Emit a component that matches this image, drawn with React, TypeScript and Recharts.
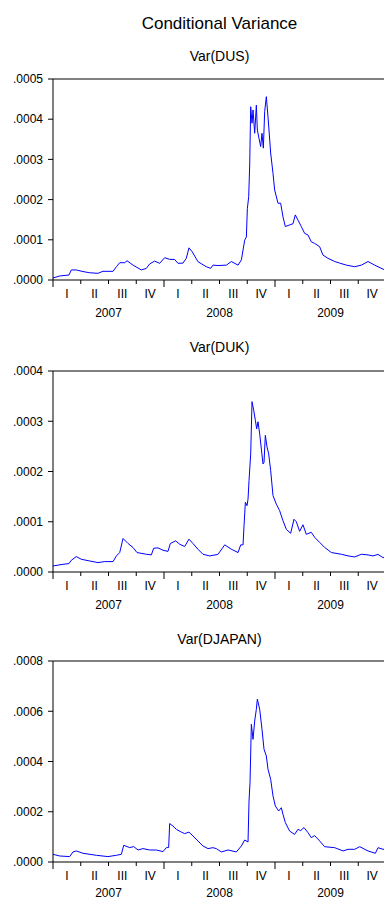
import React from 'react';
import { LineChart, Line, XAxis, YAxis, ReferenceLine } from 'recharts';

const FONT = '"Liberation Sans", Arial, Helvetica, sans-serif';

const mainTitle = 'Conditional Variance';

// quarter boundaries (tick marks) and quarter / year label positions (decimal years)
const quarterBounds = [
  2007, 2007.25, 2007.5, 2007.75, 2008, 2008.25, 2008.5, 2008.75, 2009, 2009.25, 2009.5, 2009.75, 2010,
];
const quarterCenters = [
  2007.125, 2007.375, 2007.625, 2007.875, 2008.125, 2008.375, 2008.625, 2008.875, 2009.125, 2009.375,
  2009.625, 2009.875,
];
const quarterLabels = ['I', 'II', 'III', 'IV'];
const yearCenters = [2007.5, 2008.5, 2009.5];
const yearLabels = ['2007', '2008', '2009'];

// [decimal year, conditional variance in units of 1e-6]
const dusVar: [number, number][] = [
  [2007.0, 5], [2007.06, 10], [2007.144, 12.4], [2007.165, 25], [2007.21, 25], [2007.27, 21],
  [2007.33, 18], [2007.405, 16.6], [2007.45, 21.6], [2007.541, 21.6], [2007.571, 33], [2007.601, 43],
  [2007.646, 43], [2007.667, 48], [2007.721, 37], [2007.796, 25], [2007.841, 29], [2007.871, 40],
  [2007.916, 47], [2007.961, 41.5], [2008.006, 55.5], [2008.051, 51.4], [2008.096, 51], [2008.126, 41.5],
  [2008.171, 42], [2008.201, 54], [2008.225, 80], [2008.255, 70], [2008.306, 45.6], [2008.381, 33],
  [2008.42, 29], [2008.441, 37], [2008.486, 36], [2008.562, 37], [2008.607, 46], [2008.667, 37],
  [2008.697, 50], [2008.727, 99], [2008.742, 107], [2008.751, 178], [2008.763, 207], [2008.772, 286],
  [2008.781, 431], [2008.793, 390], [2008.802, 423], [2008.817, 365], [2008.832, 435], [2008.841, 373],
  [2008.856, 352], [2008.871, 332], [2008.883, 365], [2008.895, 328], [2008.907, 419], [2008.922, 456],
  [2008.937, 406], [2008.961, 316], [2008.982, 265], [2008.997, 224], [2009.027, 191], [2009.051, 191],
  [2009.072, 157], [2009.093, 133], [2009.132, 137], [2009.162, 140], [2009.183, 162], [2009.207, 149],
  [2009.237, 133], [2009.267, 116], [2009.297, 112], [2009.327, 95], [2009.357, 91], [2009.402, 83],
  [2009.432, 62], [2009.477, 54], [2009.538, 46], [2009.583, 42], [2009.643, 37], [2009.718, 33],
  [2009.778, 37], [2009.838, 46], [2009.898, 37], [2009.973, 27], [2010.0, 25],
];

const dukVar: [number, number][] = [
  [2007.0, 12], [2007.09, 15.3], [2007.144, 16.7], [2007.165, 23.3], [2007.21, 30.7], [2007.255, 25.3],
  [2007.33, 22], [2007.405, 18.7], [2007.465, 20.7], [2007.541, 20.7], [2007.571, 32], [2007.601, 38.7],
  [2007.631, 66.7], [2007.676, 56.7], [2007.721, 48.7], [2007.757, 38.7], [2007.841, 35.3], [2007.886, 34],
  [2007.907, 47.3], [2007.946, 48], [2007.991, 43.3], [2008.036, 41], [2008.057, 56.7], [2008.105, 62],
  [2008.141, 55.3], [2008.186, 50.7], [2008.225, 65.3], [2008.261, 56.7], [2008.306, 45.3], [2008.351, 35.3],
  [2008.411, 32], [2008.486, 35], [2008.547, 54], [2008.607, 45.3], [2008.667, 38.7], [2008.691, 54],
  [2008.712, 54], [2008.721, 92], [2008.733, 138.7], [2008.748, 132], [2008.757, 145], [2008.766, 182],
  [2008.781, 235], [2008.793, 339], [2008.808, 322], [2008.823, 302], [2008.835, 285], [2008.847, 299],
  [2008.862, 275], [2008.877, 245], [2008.892, 215], [2008.901, 218], [2008.913, 272], [2008.928, 249],
  [2008.943, 235], [2008.961, 202], [2008.982, 152], [2009.012, 135], [2009.042, 122], [2009.072, 102],
  [2009.102, 85], [2009.141, 77], [2009.171, 105], [2009.192, 100], [2009.222, 81], [2009.252, 94],
  [2009.282, 75], [2009.327, 79], [2009.357, 69], [2009.402, 59], [2009.447, 49], [2009.508, 38.7],
  [2009.598, 35.3], [2009.658, 32], [2009.718, 30], [2009.778, 35.3], [2009.838, 34], [2009.883, 32],
  [2009.928, 35], [2009.973, 28.7], [2010.0, 28],
];

const djapanVar: [number, number][] = [
  [2007.0, 30.6], [2007.06, 24], [2007.15, 21.5], [2007.18, 40], [2007.21, 44], [2007.27, 34.6],
  [2007.39, 26.7], [2007.495, 21.5], [2007.571, 26.7], [2007.616, 30.6], [2007.637, 66.5], [2007.691, 57.3],
  [2007.727, 61.3], [2007.766, 47.8], [2007.811, 53.3], [2007.871, 47.8], [2007.931, 47.8], [2007.991, 41.4],
  [2008.021, 57.3], [2008.042, 57.3], [2008.051, 153], [2008.081, 143], [2008.111, 130], [2008.156, 119],
  [2008.186, 113], [2008.225, 119], [2008.261, 103.5], [2008.306, 83.6], [2008.351, 63.7], [2008.396, 53.3],
  [2008.441, 57], [2008.471, 53.3], [2008.517, 40], [2008.577, 47.8], [2008.652, 40], [2008.697, 63.7],
  [2008.727, 87.6], [2008.757, 79.6], [2008.766, 243], [2008.775, 316], [2008.787, 548], [2008.802, 488],
  [2008.817, 561], [2008.832, 608], [2008.841, 648], [2008.862, 608], [2008.883, 528], [2008.901, 449],
  [2008.922, 422], [2008.937, 369], [2008.961, 329], [2008.982, 263], [2009.003, 223], [2009.033, 203],
  [2009.057, 216], [2009.072, 190], [2009.093, 157], [2009.132, 123], [2009.177, 110], [2009.207, 130],
  [2009.231, 125], [2009.261, 137], [2009.297, 117], [2009.327, 97], [2009.357, 105], [2009.402, 84],
  [2009.447, 61], [2009.538, 57], [2009.613, 44], [2009.658, 50.5], [2009.718, 50.5], [2009.763, 61],
  [2009.838, 44], [2009.904, 34.6], [2009.928, 57], [2009.973, 50.5], [2010.0, 52],
];

const panels = [
  { title: 'Var(DUS)', series: dusVar, yMax: 0.0005, yTicks: [0, 0.0001, 0.0002, 0.0003, 0.0004, 0.0005] },
  { title: 'Var(DUK)', series: dukVar, yMax: 0.0004, yTicks: [0, 0.0001, 0.0002, 0.0003, 0.0004] },
  { title: 'Var(DJAPAN)', series: djapanVar, yMax: 0.0008, yTicks: [0, 0.0002, 0.0004, 0.0006, 0.0008] },
];

// layout (pixels): chart top, subtitle centre, year label offset
const layout = [
  { top: 69, titleY: 56, yearDy: 6.5 },
  { top: 361, titleY: 346.5, yearDy: 6.5 },
  { top: 651, titleY: 639, yearDy: 5 },
];

const fmtY = (v: number) => v.toFixed(4).replace(/^0/, '');

const MarkTick = (props: any) => {
  const { x, y, payload } = props;
  const isYear = Math.abs(payload.value - Math.round(payload.value)) < 1e-9;
  return <line x1={x} x2={x} y1={y} y2={y + (isYear ? 7 : 4)} stroke="#000" strokeWidth={1} />;
};

const QuarterTick = (props: any) => {
  const { x, y, index } = props;
  return (
    <text x={x} y={y + 6} textAnchor="middle" dominantBaseline="central" fontSize={12} fill="#000" fontFamily={FONT}>
      {quarterLabels[index % 4]}
    </text>
  );
};

const makeYearTick = (dy: number) => (props: any) => {
  const { x, y, index } = props;
  return (
    <text x={x} y={y + dy} textAnchor="middle" dominantBaseline="central" fontSize={12} fill="#000" fontFamily={FONT}>
      {yearLabels[index]}
    </text>
  );
};

const Panel = ({ p, l }: { p: (typeof panels)[number]; l: (typeof layout)[number] }) => {
  const data = p.series.map(([t, v]) => ({ t, v: v * 1e-6 }));
  const YearTick = makeYearTick(l.yearDy);
  return (
    <div style={{ position: 'absolute', left: 0, top: l.top }}>
      <LineChart width={392} height={261} data={data} margin={{ top: 10, right: 6, bottom: 0, left: 0 }}>
        <XAxis
          xAxisId="m"
          dataKey="t"
          type="number"
          domain={[2007, 2010]}
          allowDataOverflow
          ticks={quarterBounds}
          interval={0}
          height={8}
          tickSize={0}
          tickMargin={0}
          tickLine={false}
          tick={<MarkTick />}
          axisLine={{ stroke: '#000', strokeWidth: 1 }}
        />
        <XAxis
          xAxisId="q"
          dataKey="t"
          type="number"
          domain={[2007, 2010]}
          allowDataOverflow
          ticks={quarterCenters}
          interval={0}
          height={18}
          tickSize={0}
          tickMargin={0}
          tickLine={false}
          axisLine={false}
          tick={<QuarterTick />}
        />
        <XAxis
          xAxisId="y"
          dataKey="t"
          type="number"
          domain={[2007, 2010]}
          allowDataOverflow
          ticks={yearCenters}
          interval={0}
          height={24}
          tickSize={0}
          tickMargin={0}
          tickLine={false}
          axisLine={false}
          tick={<YearTick />}
        />
        <YAxis
          type="number"
          domain={[0, p.yMax]}
          allowDataOverflow
          ticks={p.yTicks}
          interval={0}
          width={53}
          tickSize={5}
          tickMargin={5}
          tickFormatter={fmtY}
          tick={{ fontSize: 12, fill: '#000', fontFamily: FONT }}
          tickLine={{ stroke: '#000' }}
          axisLine={{ stroke: '#000', strokeWidth: 1 }}
        />
        <ReferenceLine xAxisId="m" y={p.yMax} stroke="#000" strokeWidth={1} />
        <Line
          xAxisId="m"
          type="linear"
          dataKey="v"
          stroke="#0000ff"
          strokeWidth={1}
          dot={false}
          isAnimationActive={false}
        />
      </LineChart>
    </div>
  );
};

export default function App() {
  return (
    <div
      style={{
        position: 'absolute',
        left: 0,
        top: 0,
        width: 384,
        height: 900,
        overflow: 'hidden',
        background: '#fff',
        fontFamily: FONT,
        color: '#000',
      }}
    >
      <div style={{ position: 'absolute', left: 53, width: 333, top: 14, lineHeight: '20px', fontSize: 17, textAlign: 'center' }}>
        {mainTitle}
      </div>
      {panels.map((p, i) => (
        <React.Fragment key={p.title}>
          <div
            style={{
              position: 'absolute',
              left: 53,
              width: 333,
              top: layout[i].titleY - 10,
              lineHeight: '20px',
              fontSize: 14,
              textAlign: 'center',
            }}
          >
            {p.title}
          </div>
          <Panel p={p} l={layout[i]} />
        </React.Fragment>
      ))}
    </div>
  );
}
